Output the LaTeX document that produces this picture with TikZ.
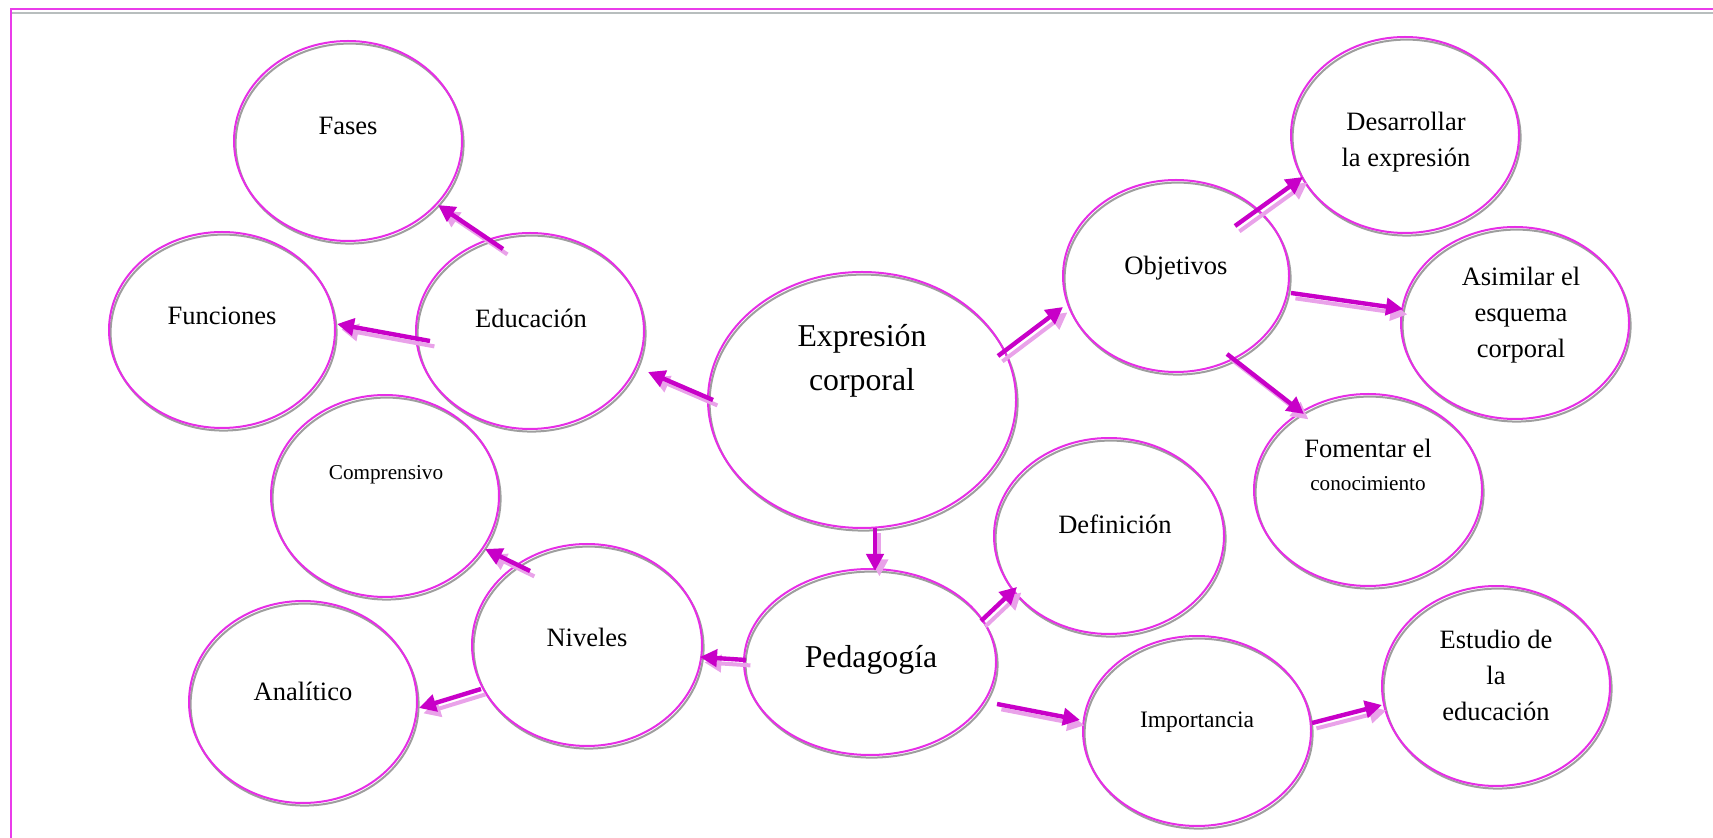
\documentclass[tikz,border=0pt]{standalone}
\usepackage{fontspec}
\setmainfont{Liberation Serif}
\usetikzlibrary{arrows.meta,calc,shapes.geometric}
\definecolor{mag}{HTML}{E62EE6}
\definecolor{framemag}{HTML}{EA3CEA}
\definecolor{shgray}{HTML}{9E9E9E}
\definecolor{framegray}{HTML}{B8BEBE}
\definecolor{amag}{HTML}{C800C8}
\definecolor{apink}{HTML}{E9A2E9}
\tikzset{
  bub/.style={ellipse, draw=mag, line width=1pt, inner sep=0pt, outer sep=0pt,
    preaction={draw=shgray, line width=1pt, transform canvas={shift={(0.8pt,-1.3pt)}}}},
  lbl/.style={align=center, inner sep=0pt, font=\fontsize{13.25}{18}\selectfont},
  bigl/.style={font=\fontsize{15.9}{22}\selectfont},
  smalll/.style={font=\fontsize{10.6}{14}\selectfont},
  arr/.style={line width=2.2pt, draw=amag, -{Triangle[length=8.5pt,width=8.5pt]},
    preaction={draw=apink, line width=2pt, -{Triangle[length=8.5pt,width=8.5pt]},
      transform canvas={shift={(2.2pt,-2.7pt)}}}}
}
\begin{document}
\begin{tikzpicture}[x=0.5pt,y=-0.5pt]
\useasboundingbox (0,0) rectangle (1713,838);
% frame
\draw[framegray, line width=1pt] (12,13) -- (1713,13);
\draw[framemag, line width=1pt] (10.5,838) -- (10.5,9) -- (1713,9);
% ellipses
\node[bub, minimum width=114pt, minimum height=100pt] (fases) at (348,141) {};
\node[bub, minimum width=113pt, minimum height=98pt] (fun) at (222,330) {};
\node[bub, minimum width=114pt, minimum height=98pt] (edu) at (530,331) {};
\node[bub, minimum width=154pt, minimum height=128pt] (ec) at (862,400) {};
\node[bub, minimum width=114pt, minimum height=101pt] (comp) at (385,496) {};
\node[bub, minimum width=115pt, minimum height=101pt] (niv) at (587,645) {};
\node[bub, minimum width=114pt, minimum height=101pt] (ana) at (303,702) {};
\node[bub, minimum width=126pt, minimum height=93pt] (ped) at (870,662) {};
\node[bub, minimum width=115pt, minimum height=98pt] (def) at (1109,536) {};
\node[bub, minimum width=113pt, minimum height=96pt] (obj) at (1176,276) {};
\node[bub, minimum width=114pt, minimum height=98pt] (des) at (1405,135) {};
\node[bub, minimum width=114pt, minimum height=96pt] (asi) at (1515,323) {};
\node[bub, minimum width=114pt, minimum height=96pt] (fom) at (1368,490) {};
\node[bub, minimum width=114pt, minimum height=95pt] (imp) at (1197,731) {};
\node[bub, minimum width=114pt, minimum height=100pt] (est) at (1496,686) {};
% labels
\node[lbl] (fasesL) at (348,126) {Fases};
\node[lbl] (funL) at (222,316) {Funciones};
\node[lbl] (eduL) at (531,318) {Educación};
\node[lbl, bigl] (ecL) at (862,361) {Expresión\\corporal};
\node[lbl, smalll] (compL) at (386,475) {Comprensivo};
\node[lbl] (nivL) at (587,637) {Niveles};
\node[lbl] (anaL) at (303,691) {Analítico};
\node[lbl, bigl] (pedL) at (871,660) {Pedagogía};
\node[lbl] (defL) at (1115,524) {Definición};
\node[lbl] (objL) at (1176,268) {Objetivos};
\node[lbl] (desL) at (1406,142) {Desarrollar\\la expresión};
\node[lbl] (asiL) at (1521,315) {Asimilar el\\esquema\\corporal};
\node[lbl, font=\fontsize{13.25}{16.5}\selectfont] (fomL) at (1368,465) {Fomentar el\\{\fontsize{10.6}{16.5}\selectfont conocimiento}};
\node[lbl, font=\fontsize{11.8}{15}\selectfont] (impL) at (1197,722) {Importancia};
\node[lbl] (estL) at (1496,675) {Estudio de\\la\\educación};
% arrows
\draw[arr] ($(ec)+(-149,0)$) -- ($(edu)+(118,41)$);
\draw[arr] ($(edu)+(-100,10)$) -- ($(fun)+(115,-6)$);
\draw[arr] ($(edu)+(-27,-82)$) -- ($(fases)+(90,64)$);
\draw[arr] ($(ec)+(13,128)$) -- ($(ped)+(5,-91)$);
\draw[arr] ($(ec)+(136,-44)$) -- ($(obj)+(-113,31)$);
\draw[arr] ($(obj)+(59,-50)$) -- ($(des)+(-102,42)$);
\draw[arr] ($(obj)+(115,17)$) -- ($(asi)+(-112,-14)$);
\draw[arr] ($(obj)+(51,78)$) -- ($(fom)+(-64,-76)$);
\draw[arr] ($(ped)+(-124,-2)$) -- ($(niv)+(113,12)$);
\draw[arr] ($(niv)+(-57,-74)$) -- ($(comp)+(100,53)$);
\draw[arr] ($(niv)+(-106,44)$) -- ($(ana)+(116,6)$);
\draw[arr] ($(ped)+(111,-41)$) -- ($(def)+(-92,51)$);
\draw[arr] ($(ped)+(127,42)$) -- ($(imp)+(-117,-11)$);
\draw[arr] ($(imp)+(115,-8)$) -- ($(est)+(-114,19)$);
\end{tikzpicture}
\end{document}
